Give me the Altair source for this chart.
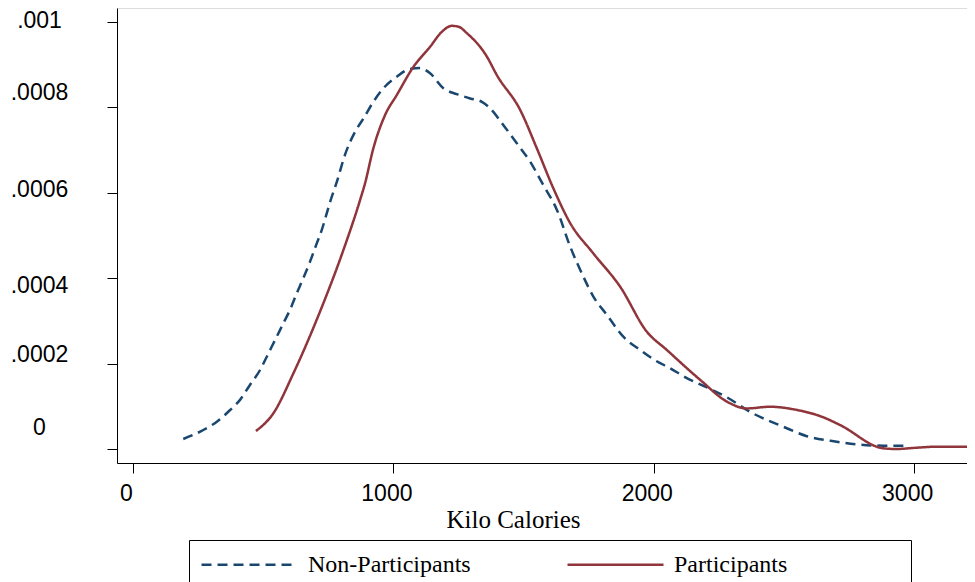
import altair as alt
import pandas as pd

# Kernel density estimates (x in kcal, density x 1e-4)
non_x = [193, 270, 322, 373, 411, 449, 488, 520, 552, 577, 603, 629, 654, 680, 706, 725, 744, 757, 783, 814,
         853, 885, 923, 962, 1013, 1064, 1102, 1141, 1192, 1243, 1295, 1340, 1371, 1422, 1474, 1525, 1576, 1628,
         1679, 1724, 1768, 1820, 1883, 1948, 1999, 2063, 2127, 2191, 2281, 2370, 2498, 2588, 2703, 2780, 2882, 2969]
non_y = [0.234, 0.445, 0.64, 0.913, 1.15, 1.50, 1.85, 2.24, 2.63, 2.94, 3.26, 3.65, 4.00, 4.39, 4.82, 5.13, 5.52,
         5.79, 6.26, 6.89, 7.43, 7.74, 8.13, 8.45, 8.72, 8.90, 8.92, 8.80, 8.45, 8.31, 8.21, 8.13, 7.98, 7.59, 7.16,
         6.73, 6.18, 5.60, 4.74, 4.11, 3.57, 3.14, 2.63, 2.32, 2.10, 1.89, 1.66, 1.48, 1.21, 0.87, 0.52, 0.30, 0.17,
         0.11, 0.077, 0.077]

part_x = [472, 539, 616, 718, 808, 872, 891, 923, 968, 1013, 1077, 1141, 1186, 1224, 1250, 1282, 1359, 1397, 1487,
          1551, 1614, 1679, 1768, 1871, 1973, 2050, 2178, 2281, 2357, 2447, 2536, 2652, 2716, 2882, 2933, 3010, 3087,
          3203]
part_y = [0.42, 0.836, 1.773, 3.215, 4.66, 5.83, 6.22, 7.04, 7.82, 8.29, 8.95, 9.42, 9.77, 9.91, 9.89, 9.74, 9.19,
          8.76, 7.94, 7.04, 6.11, 5.29, 4.58, 3.80, 2.75, 2.32, 1.62, 1.11, 0.95, 0.99, 0.93, 0.74, 0.56, 0.016, 0.0,
          0.03, 0.054, 0.054]

series = ["Non-Participants", "Participants"]
colors = ["#1a476f", "#90353b"]
dashes = [[10, 6], [1, 0]]
x_ticks = [0, 1000, 2000, 3000]
y_ticks = [0, 0.0002, 0.0004, 0.0006, 0.0008, 0.001]

df = pd.concat([
    pd.DataFrame({"kcal": non_x, "density": [v * 1e-4 for v in non_y], "series": series[0], "o": range(len(non_x))}),
    pd.DataFrame({"kcal": part_x, "density": [v * 1e-4 for v in part_y], "series": series[1], "o": range(len(part_x))}),
])

legend = alt.Legend(
    orient="none", legendX=72, legendY=532, direction="horizontal", columns=2,
    symbolType="M-4,0H4", symbolSize=576, symbolStrokeWidth=2.5, symbolOffset=36,
    labelOffset=45, labelFont="Liberation Serif", labelFontSize=24, labelColor="black", labelLimit=500,
    columnPadding=91, padding=11, strokeColor="black",
    title="\u2800", titleOrient="right", titleFont="Liberation Serif", titleFontSize=24,
    titlePadding=95, titleOpacity=0,
)

label_offsets = {0: -21, 0.0002: -9, 0.0004: 7, 0.0006: -3, 0.0008: -15, 0.001: -2}
y_label_offset = {
    "condition": [{"test": f"abs(datum.value - {k}) < 1e-9", "value": v} for k, v in label_offsets.items()],
    "value": 0,
}

chart = alt.Chart(df).mark_line(strokeWidth=2.5, interpolate="monotone").encode(
    x=alt.X("kcal:Q", scale=alt.Scale(domain=[-61.5, 3203], nice=False, zero=False),
            axis=alt.Axis(values=x_ticks, format="d", tickSize=10, grid=False,
                          labelFont="Liberation Sans", labelFontSize=23, labelColor="black",
                          labelOffset=-7, labelPadding=27, labelBaseline="alphabetic",
                          domainColor="black", tickColor="black",
                          title="Kilo Calories", titleFont="Liberation Serif", titleFontSize=25,
                          titleFontWeight="normal", titleColor="black", titleX=396, titleY=64,
                          titleBaseline="alphabetic", titleAlign="center")),
    y=alt.Y("density:Q", scale=alt.Scale(domain=[-0.0000328, 0.0010328], nice=False, zero=False),
            axis=alt.Axis(values=y_ticks, tickSize=10, grid=False, title=None,
                          labelExpr="replace(format(datum.value, '.4~f'), '0.', '.')",
                          labelFont="Liberation Sans", labelFontSize=23, labelColor="black",
                          labelAlign="center", labelBaseline="middle", labelPadding=68,
                          labelOffset=y_label_offset,
                          domainColor="black", tickColor="black")),
    color=alt.Color("series:N", scale=alt.Scale(domain=series, range=colors), legend=legend),
    strokeDash=alt.StrokeDash("series:N", scale=alt.Scale(domain=series, range=dashes), legend=legend),
    order="o:Q",
).properties(
    width=850, height=455,
    padding={"left": 109, "top": 0, "right": 0, "bottom": 121},
    autosize=alt.AutoSizeParams(type="none"),
).configure_view(stroke=None).configure(background="white")

chart.save("out.html", embed_options={"renderer": "svg", "actions": False})
